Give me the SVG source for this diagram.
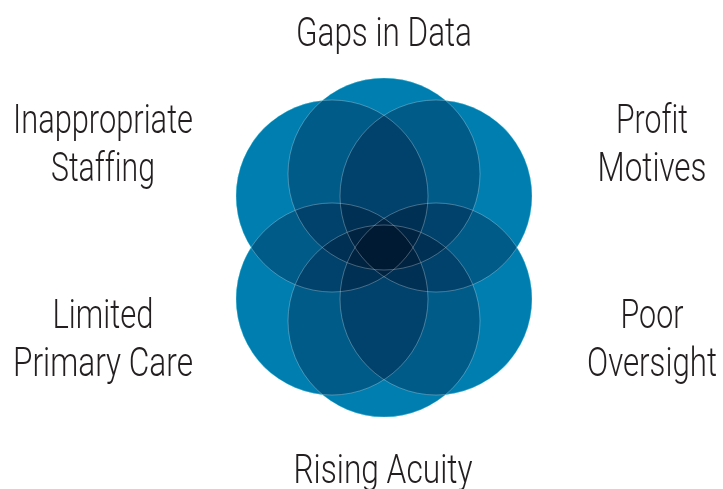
<svg xmlns="http://www.w3.org/2000/svg" width="723" height="489" viewBox="0 0 723 489">
<style>
.base{fill:#00AEE0}
.mul{fill:rgb(0,184,199);mix-blend-mode:multiply}
.edge{fill:none;stroke:#ffffff;stroke-opacity:0.35;stroke-width:0.8}
.lbl{font-family:Roboto,"Liberation Sans",Arial,sans-serif;font-weight:300;font-size:41px;fill:#231f20;text-anchor:middle;font-variant-ligatures:none}
</style>
<defs>
<circle id="c-top" cx="384" cy="174" r="96"/>
<circle id="c-ul" cx="332" cy="196" r="96"/>
<circle id="c-ur" cx="436" cy="196" r="96"/>
<circle id="c-ll" cx="332" cy="299" r="96"/>
<circle id="c-lr" cx="436" cy="299" r="96"/>
<circle id="c-bot" cx="384" cy="321" r="96"/>
</defs>
<g id="base">
<use href="#c-top" class="base"/><use href="#c-ul" class="base"/><use href="#c-ur" class="base"/>
<use href="#c-ll" class="base"/><use href="#c-lr" class="base"/><use href="#c-bot" class="base"/>
</g>
<g id="node-gaps"><use href="#c-top" class="mul"/></g>
<g id="node-staffing"><use href="#c-ul" class="mul"/></g>
<g id="node-profit"><use href="#c-ur" class="mul"/></g>
<g id="node-primary"><use href="#c-ll" class="mul"/></g>
<g id="node-oversight"><use href="#c-lr" class="mul"/></g>
<g id="node-acuity"><use href="#c-bot" class="mul"/></g>
<g id="edges">
<use href="#c-top" class="edge"/><use href="#c-ul" class="edge"/><use href="#c-ur" class="edge"/>
<use href="#c-ll" class="edge"/><use href="#c-lr" class="edge"/><use href="#c-bot" class="edge"/>
</g>
<g id="labels">
<text class="lbl" x="384" y="46" textLength="176" lengthAdjust="spacingAndGlyphs">Gaps in Data</text>
<text class="lbl" x="103" y="133" textLength="180" lengthAdjust="spacingAndGlyphs">Inappropriate</text>
<text class="lbl" x="103" y="181" textLength="104" lengthAdjust="spacingAndGlyphs">Staffing</text>
<text class="lbl" x="103" y="328" textLength="101" lengthAdjust="spacingAndGlyphs">Limited</text>
<text class="lbl" x="103" y="376" textLength="180" lengthAdjust="spacingAndGlyphs">Primary Care</text>
<text class="lbl" x="652" y="133" textLength="72" lengthAdjust="spacingAndGlyphs">Profit</text>
<text class="lbl" x="652" y="181" textLength="109" lengthAdjust="spacingAndGlyphs">Motives</text>
<text class="lbl" x="652" y="328" textLength="63" lengthAdjust="spacingAndGlyphs">Poor</text>
<text class="lbl" x="652" y="376" textLength="130" lengthAdjust="spacingAndGlyphs">Oversight</text>
<text class="lbl" x="383" y="483" textLength="179" lengthAdjust="spacingAndGlyphs">Rising Acuity</text>
</g>
</svg>
